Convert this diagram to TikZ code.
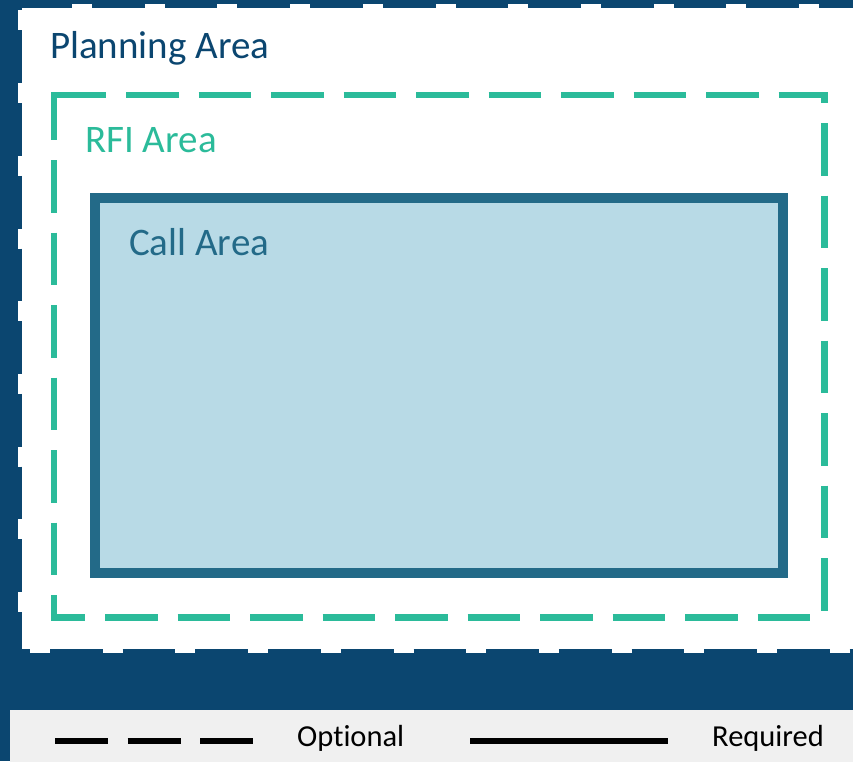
\documentclass[tikz,border=0pt]{standalone}
\usepackage{fontspec}
\setmainfont[Ligatures=NoCommon]{Carlito}
\definecolor{bgblue}{HTML}{0B4670}
\definecolor{rfiteal}{HTML}{2BBB9A}
\definecolor{callborder}{HTML}{236A88}
\definecolor{callfill}{HTML}{B8DAE6}
\definecolor{legendbg}{HTML}{F0F0F0}
\tikzset{
  lbl/.style={inner sep=0pt, anchor=base west, font=\fontsize{39}{45}\selectfont},
  leglbl/.style={inner sep=0pt, anchor=base west, font=\fontsize{30.5}{35}\selectfont, text=black},
  planedge/.style={draw=bgblue, line width=8pt, dash pattern=on 52.7pt off 20pt},
  rfiedge/.style={draw=rfiteal, line width=6.5pt, dash pattern=on 52.5pt off 20pt},
}
\begin{document}
\begin{tikzpicture}[x=1pt,y=-1pt]
\useasboundingbox (0,0) rectangle (853,761);
\clip (0,0) rectangle (853,761);
% background
\fill[bgblue] (0,0) rectangle (853,761);
% planning area
\fill[white] (18,4) rectangle (900,653);
\coordinate (pt1) at (19.3,4);
\coordinate (pt2) at (900,4);
\coordinate (pl1) at (18,-42.3);
\coordinate (pl2) at (18,700);
\coordinate (pb1) at (-22.7,653);
\coordinate (pb2) at (900,653);
\draw[planedge] (pt1) -- (pt2);
\draw[planedge] (pl1) -- (pl2);
\draw[planedge] (pb1) -- (pb2);
\node[lbl, text=bgblue] (plan) at (50,58) {Planning Area};
% RFI area
\coordinate (rtl) at (53.75,92);
\coordinate (rbl) at (53.75,621);
\coordinate (rtr) at (824.5,92);
\coordinate (rbr) at (824.5,621);
\coordinate (rt1) at (51,95);
\coordinate (rt2) at (827.5,95);
\coordinate (rb1) at (51,617.5);
\coordinate (rb2) at (827.5,617.5);
\draw[rfiedge, dash phase=70pt] (rt1) -- (rt2);
\draw[rfiedge, dash phase=4.5pt] (rtl) -- (rbl);
\draw[rfiedge, dash phase=41.5pt] (rtr) -- (rbr);
\draw[rfiedge, dash phase=18.5pt] (rb1) -- (rb2);
\node[lbl, text=rfiteal] (rfi) at (85,152) {RFI Area};
% call area
\draw[draw=callborder, fill=callfill, line width=10pt] (94.5,198) rectangle (782.5,573);
\node[lbl, text=callborder] (call) at (129,255) {Call Area};
% legend
\fill[legendbg] (10,710) rectangle (900,800);
\coordinate (ld1) at (55,741);
\coordinate (ld2) at (253,741);
\coordinate (ls1) at (470,741);
\coordinate (ls2) at (668,741);
\draw[black, line width=6pt, dash pattern=on 53pt off 19.5pt] (ld1) -- (ld2);
\draw[black, line width=6pt] (ls1) -- (ls2);
\node[leglbl] (opt) at (297,746) {Optional};
\node[leglbl] (req) at (712,746) {Required};
\end{tikzpicture}
\end{document}
